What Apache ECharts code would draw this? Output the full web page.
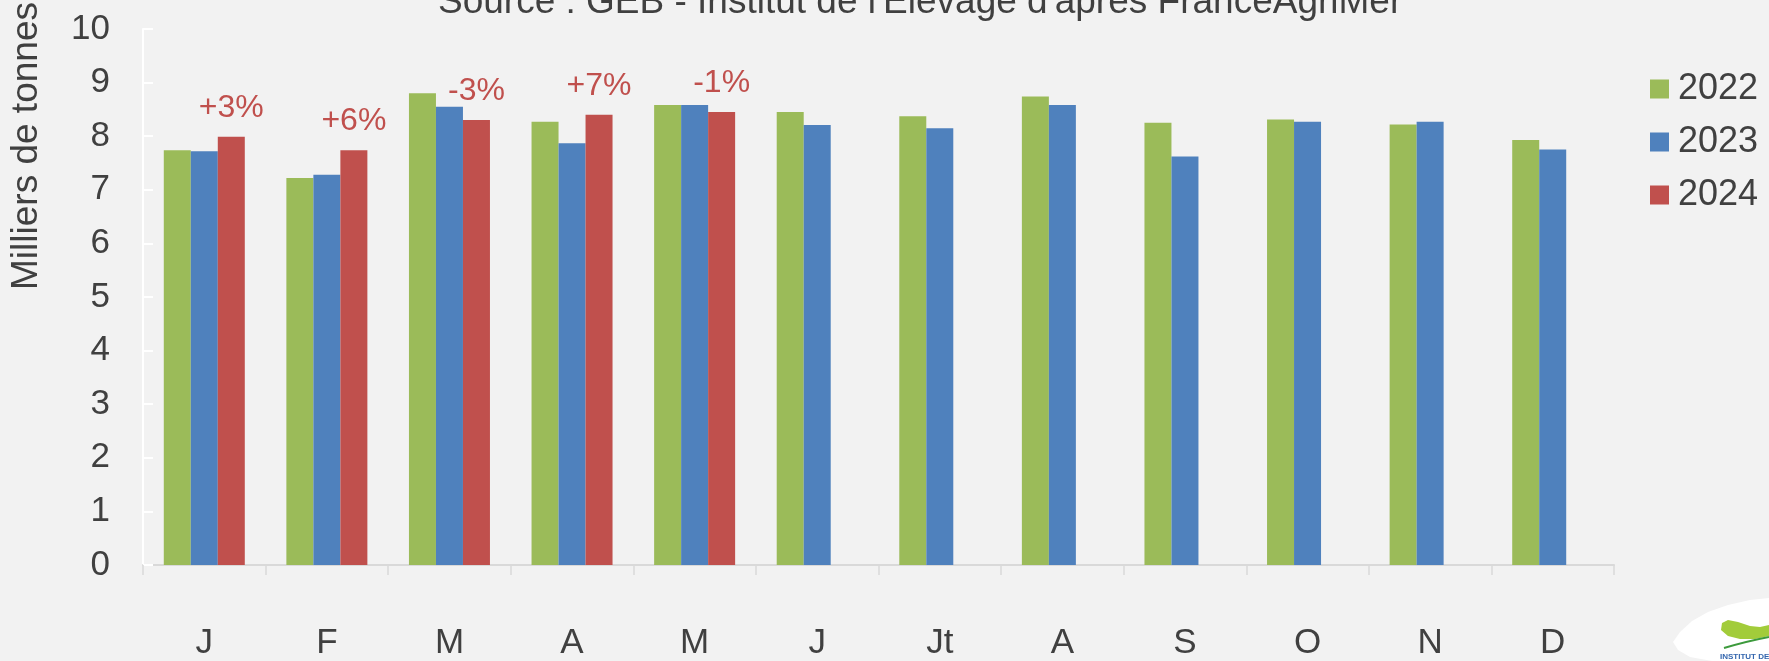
<!DOCTYPE html>
<html>
<head>
<meta charset="utf-8">
<script src="https://cdn.jsdelivr.net/npm/echarts@6/dist/echarts.min.js"></script>
<style>
html,body{margin:0;padding:0;background:#F2F2F2;}
#chart{width:1769px;height:661px;}
</style>
</head>
<body>
<div id="chart"></div>
<script>
const months = ['J','F','M','A','M','J','Jt','A','S','O','N','D'];
const years = ['2022','2023','2024'];
const values2022 = [7.74, 7.22, 8.80, 8.27, 8.58, 8.45, 8.37, 8.74, 8.25, 8.31, 8.22, 7.93];
const values2023 = [7.72, 7.28, 8.55, 7.87, 8.58, 8.21, 8.15, 8.58, 7.62, 8.27, 8.27, 7.75];
const values2024 = [7.99, 7.74, 8.30, 8.40, 8.45, null, null, null, null, null, null, null];
const pctLabels = ['+3%', '+6%', '-3%', '+7%', '-1%'];
const yTicks = [0,1,2,3,4,5,6,7,8,9,10];
const titleText = "Source : GEB - Institut de l'Elevage d'après FranceAgriMer";
const yName = 'Milliers de tonnes';

const FONT = 'Liberation Sans';
const TXT = '#404040';
const colors = ['#9BBB59', '#4F81BD', '#C0504D'];

const chart = echarts.init(document.getElementById('chart'));
const seriesData = [values2022, values2023, values2024];

chart.setOption({
  animation: false,
  backgroundColor: '#F2F2F2',
  textStyle: { fontFamily: FONT },
  title: {
    text: titleText,
    left: 438,
    top: -16,
    padding: 0,
    textStyle: { fontFamily: FONT, fontSize: 37, fontWeight: 'normal', color: TXT }
  },
  legend: {
    orient: 'vertical',
    left: 1645,
    top: 66,
    itemWidth: 19,
    itemHeight: 19,
    itemGap: 17,
    icon: 'rect',
    data: years,
    textStyle: { fontFamily: FONT, fontSize: 36, color: TXT, padding: [0, 0, 0, 4] }
  },
  grid: { left: 143, right: 155, top: 29, bottom: 96 },
  xAxis: {
    type: 'category',
    data: months,
    axisLine: { show: true, lineStyle: { color: '#D9D9D9', width: 2 } },
    axisTick: { show: true, length: 10, lineStyle: { color: '#D9D9D9', width: 1.5 } },
    axisLabel: { interval: 0, margin: 61, fontFamily: FONT, fontSize: 35, color: TXT },
    splitLine: { show: false }
  },
  yAxis: {
    type: 'value',
    min: yTicks[0],
    max: yTicks[yTicks.length - 1],
    interval: 1,
    axisLine: { show: true, lineStyle: { color: '#FFFFFF', width: 2 } },
    axisTick: { show: true, inside: true, length: 10, lineStyle: { color: '#FFFFFF', width: 2 } },
    axisLabel: { margin: 33, fontFamily: FONT, fontSize: 35, color: TXT },
    splitLine: { show: false }
  },
  series: years.map((y, i) => ({
    name: y,
    type: 'bar',
    data: seriesData[i],
    barWidth: 27,
    barGap: '0%',
    itemStyle: { color: colors[i] },
    label: i === 2 ? {
      show: true,
      position: 'top',
      distance: 13,
      fontFamily: FONT,
      fontSize: 32,
      color: '#C0504D',
      formatter: p => pctLabels[p.dataIndex] || ''
    } : { show: false }
  })),
  graphic: [
    {
      type: 'text',
      x: 27,
      y: 146,
      rotation: Math.PI / 2,
      style: { text: yName, fontFamily: FONT, fontSize: 37, fill: TXT, align: 'center', verticalAlign: 'middle' }
    },
    {
      type: 'polygon',
      shape: { points: [[1673,642],[1680,632],[1692,621],[1708,612],[1728,605],[1750,600],[1769,598],[1769,661],[1712,661],[1690,657],[1678,650]] },
      style: { fill: '#FFFFFF' }
    },
    {
      type: 'polygon',
      shape: { points: [[1721,630],[1722,623],[1728,620],[1738,622],[1750,626],[1760,627],[1769,625],[1769,636],[1755,639],[1740,639],[1728,636]] },
      style: { fill: '#A2CC3A' }
    },
    {
      type: 'bezierCurve',
      shape: { x1: 1724, y1: 648, cpx1: 1748, cpy1: 641, x2: 1769, y2: 637 },
      style: { fill: null, stroke: '#3C9A3C', lineWidth: 2 }
    },
    {
      type: 'text',
      x: 1720,
      y: 653,
      style: { text: "INSTITUT DE L'ÉLEVAGE", fontFamily: FONT, fontSize: 8, fontWeight: 'bold', fill: '#3466AE' }
    }
  ]
});
</script>
</body>
</html>
